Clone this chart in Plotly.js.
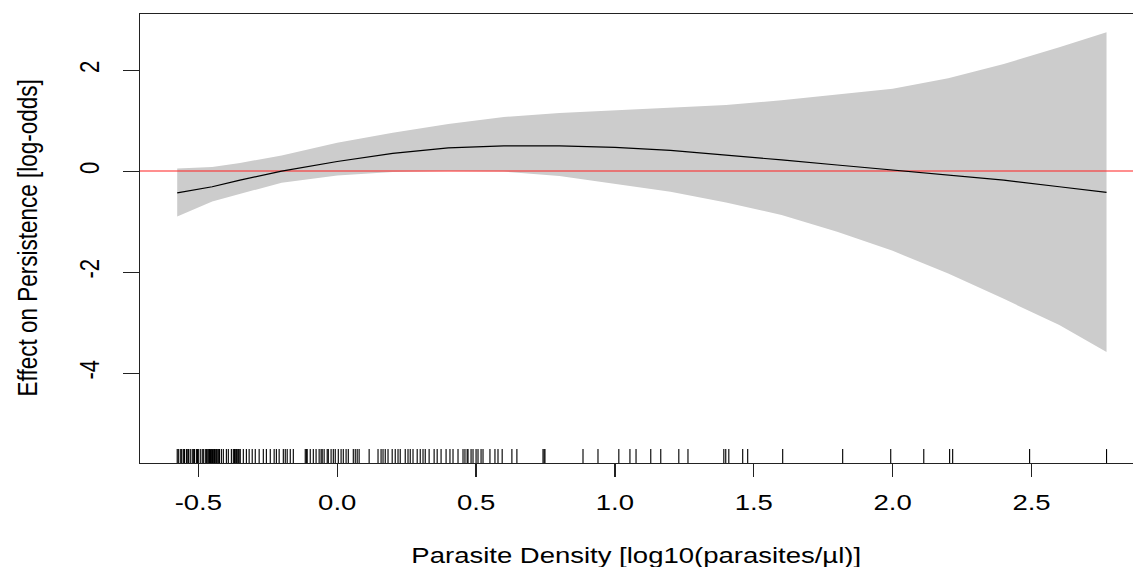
<!DOCTYPE html>
<html>
<head>
<meta charset="utf-8">
<script src="https://cdn.plot.ly/plotly-3.0.1.min.js"></script>
<style>
html,body{margin:0;padding:0;overflow:hidden;background:#fff;width:1133px;height:567px;}
#chart{width:920px;height:567px;transform:scaleX(1.25);transform-origin:0 0;}
</style>
</head>
<body>
<div id="chart"></div>
<script>
// Smooth term: parasite density (log10) vs effect on persistence (log-odds)
const density = [-0.576, -0.45, -0.35, -0.2, 0.0, 0.2, 0.4, 0.6, 0.8, 1.0, 1.2, 1.4, 1.6, 1.8, 2.0, 2.2, 2.4, 2.6, 2.77];
const effect  = [-0.43, -0.31, -0.18, 0.00, 0.19, 0.35, 0.46, 0.50, 0.50, 0.47, 0.41, 0.32, 0.22, 0.12, 0.02, -0.08, -0.18, -0.31, -0.42];
const upper   = [0.05, 0.08, 0.16, 0.31, 0.56, 0.76, 0.93, 1.07, 1.15, 1.20, 1.25, 1.31, 1.40, 1.51, 1.63, 1.84, 2.12, 2.45, 2.75];
const lower   = [-0.90, -0.60, -0.45, -0.23, -0.09, -0.02, 0.00, -0.01, -0.10, -0.26, -0.41, -0.62, -0.87, -1.20, -1.58, -2.03, -2.53, -3.05, -3.58];

// Rug: observed parasite densities
const rugValues = [
 -0.576,-0.572,-0.565,-0.560,-0.554,-0.550,-0.543,-0.540,-0.535,-0.529,-0.522,-0.518,-0.514,-0.507,-0.503,
 -0.500,-0.493,-0.486,-0.482,-0.475,-0.471,-0.468,-0.464,-0.460,-0.456,-0.453,-0.449,-0.446,-0.442,-0.439,
 -0.435,-0.432,-0.428,-0.424,-0.417,-0.410,-0.399,-0.392,-0.381,-0.374,-0.370,-0.367,-0.363,-0.360,-0.356,
 -0.353,-0.349,-0.338,-0.327,-0.317,-0.306,-0.295,-0.281,-0.266,-0.255,-0.241,-0.227,-0.219,-0.209,-0.194,
 -0.187,-0.180,-0.169,-0.158,-0.115,-0.111,-0.108,-0.097,-0.086,-0.076,-0.065,-0.058,-0.054,-0.047,-0.036,
 -0.032,-0.022,-0.014,-0.007,0.004,0.014,0.022,0.032,0.040,0.058,0.065,0.072,0.079,0.115,0.147,0.158,
 0.165,0.173,0.183,0.198,0.209,0.219,0.227,0.245,0.255,0.263,0.273,0.288,0.299,0.309,0.317,0.331,0.349,
 0.360,0.374,0.392,0.406,0.417,0.435,0.453,0.460,0.468,0.471,0.482,0.489,0.500,0.507,0.518,0.525,0.550,
 0.568,0.579,0.594,0.629,0.647,0.741,0.745,0.748,0.885,0.939,1.014,1.054,1.076,1.129,1.165,1.230,1.263,
 1.392,1.399,1.410,1.460,1.478,1.604,1.820,1.993,2.112,2.205,2.216,2.493,2.770
];

const xTicks = [-0.5, 0.0, 0.5, 1.0, 1.5, 2.0, 2.5];
const xTickText = ["-0.5", "0.0", "0.5", "1.0", "1.5", "2.0", "2.5"];
const yTicks = [2, 0, -2, -4];
const yTickText = ["2", "0", "-2", "-4"];
const xRange = [-0.71, 2.904];
const yRange = [-5.78, 3.11];
const xTitle = "Parasite Density [log10(parasites/µl)]";
const yTitle = "Effect on Persistence [log-odds]";

const band = {
  x: density.concat(density.slice().reverse()),
  y: upper.concat(lower.slice().reverse()),
  type: 'scatter', mode: 'lines', fill: 'toself',
  fillcolor: '#cccccc', line: {width: 0, color: '#cccccc'},
  hoverinfo: 'skip', showlegend: false
};
const zeroLine = {
  x: xRange, y: [0, 0], type: 'scatter', mode: 'lines',
  line: {color: '#ff2020', width: 1}, showlegend: false, hoverinfo: 'skip'
};
const fit = {
  x: density, y: effect, type: 'scatter', mode: 'lines',
  line: {color: '#000000', width: 1.2}, showlegend: false
};

const rugShapes = rugValues.map(v => ({
  type: 'line', xref: 'x', yref: 'paper', x0: v, x1: v, y0: 0, y1: 0.031,
  line: {color: '#000000', width: 0.9}
}));

const font = {family: 'Liberation Sans, Arial, sans-serif', size: 22, color: '#000'};
const yTitleFont = {family: 'Liberation Sans, Arial, sans-serif', size: 22.5, color: '#000'};

const layout = {
  width: 920, height: 567,
  margin: {l: 112, r: 5, t: 14, b: 104, pad: 0},
  paper_bgcolor: '#fff', plot_bgcolor: '#fff',
  font: font,
  showlegend: false,
  xaxis: {
    range: xRange, tickmode: 'array', tickvals: xTicks, ticktext: xTickText,
    ticks: 'outside', ticklen: 13, tickwidth: 1, tickcolor: '#222',
    showline: true, linecolor: '#222', linewidth: 1, mirror: true,
    showgrid: false, zeroline: false, tickfont: font, ticklabelstandoff: 7,
    automargin: false
  },
  yaxis: {
    range: yRange, tickmode: 'array', tickvals: yTicks, ticktext: yTickText,
    ticks: 'outside', ticklen: 13, tickwidth: 1, tickcolor: '#222',
    showline: true, linecolor: '#222', linewidth: 1, mirror: true,
    showgrid: false, zeroline: false, tickfont: font, tickangle: -90,
    ticklabelstandoff: 10, automargin: false
  },
  shapes: rugShapes,
  annotations: [
    {text: xTitle, xref: 'paper', yref: 'paper', x: 0.495, y: 0, yshift: -92,
     xanchor: 'center', yanchor: 'middle', showarrow: false, font: font},
    {text: yTitle, xref: 'paper', yref: 'paper', x: 0, y: 0.5, xshift: -90,
     xanchor: 'center', yanchor: 'middle', textangle: -90, showarrow: false, font: yTitleFont}
  ]
};

Plotly.newPlot('chart', [band, zeroLine, fit], layout, {displayModeBar: false, staticPlot: true});
</script>
</body>
</html>
